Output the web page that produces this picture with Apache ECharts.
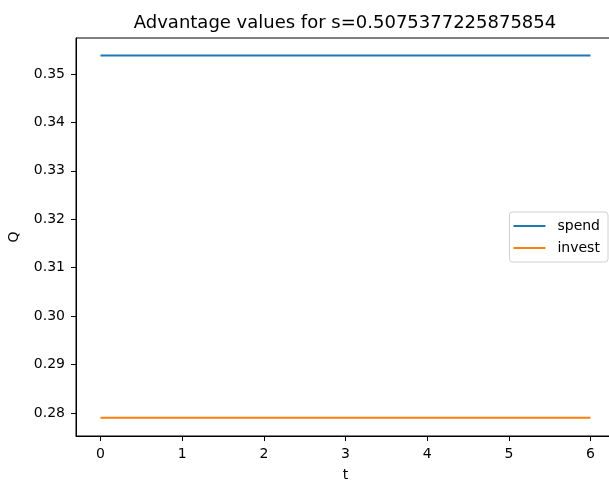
<!DOCTYPE html>
<html>
<head>
<meta charset="utf-8">
<script src="https://cdn.jsdelivr.net/npm/echarts@6/dist/echarts.min.js"></script>
<style>
  html, body { margin: 0; padding: 0; background: #fff; }
  #chart { width: 609px; height: 484px; }
</style>
</head>
<body>
<div id="chart"></div>
<script>
// 数据：时间步 t 和两条优势值曲线
const tValues = [0, 1, 2, 3, 4, 5, 6]
const spendValues = [0.3538, 0.3538, 0.3538, 0.3538, 0.3538, 0.3538, 0.3538]
const investValues = [0.2790, 0.2790, 0.2790, 0.2790, 0.2790, 0.2790, 0.2790]
const yTicks = [0.28, 0.29, 0.30, 0.31, 0.32, 0.33, 0.34, 0.35]
const xTicks = [0, 1, 2, 3, 4, 5, 6]

const font = 'DejaVu Sans'
const chart = echarts.init(document.getElementById('chart'))

const toPairs = (ys) => tValues.map((t, i) => [t, ys[i]])

const option = {
  animation: false,
  title: {
    text: 'Advantage values for s=0.5075377225875854',
    left: 340,
    textAlign: 'center',
    top: 9,
    textStyle: { fontFamily: font, fontSize: 18, fontWeight: 'normal', color: '#000' }
  },
  legend: {
    orient: 'vertical',
    right: 1,
    top: 212,
    padding: [7, 8, 7, 4],
    itemGap: 8,
    itemWidth: 32,
    itemHeight: 2,
    icon: 'rect',
    borderColor: '#d0d0d0',
    borderWidth: 1,
    borderRadius: 3,
    backgroundColor: 'rgba(255,255,255,0.8)',
    textStyle: { fontFamily: font, fontSize: 14, color: '#000', padding: [0, 0, 0, 7] },
    data: ['spend', 'invest']
  },
  grid: {
    left: 76,
    top: 38,
    height: 398,
    width: 539,
    outerBoundsMode: 'none',
    containLabel: false,
    show: true,
    borderColor: '#000',
    borderWidth: 1
  },
  xAxis: {
    type: 'value',
    min: -0.3,
    max: 6.3,
    name: 't',
    nameLocation: 'middle',
    nameGap: 32,
    nameTextStyle: { fontFamily: font, fontSize: 14, color: '#000' },
    axisLine: { show: true, onZero: false, lineStyle: { color: '#000', width: 1 } },
    axisTick: { show: true, length: 5, lineStyle: { color: '#000' }, customValues: xTicks },
    axisLabel: { fontFamily: font, fontSize: 14, color: '#000', margin: 11, customValues: xTicks },
    splitLine: { show: false }
  },
  yAxis: {
    type: 'value',
    min: 0.27525,
    max: 0.35743,
    name: 'Q',
    nameLocation: 'middle',
    nameGap: 55,
    nameTextStyle: { fontFamily: font, fontSize: 14, color: '#000' },
    axisLine: { show: true, onZero: false, lineStyle: { color: '#000', width: 1 } },
    axisTick: { show: true, length: 5, lineStyle: { color: '#000' }, customValues: yTicks },
    axisLabel: {
      fontFamily: font, fontSize: 14, color: '#000', margin: 11,
      customValues: yTicks,
      formatter: (v) => v.toFixed(2)
    },
    splitLine: { show: false }
  },
  series: [
    {
      name: 'spend',
      type: 'line',
      data: toPairs(spendValues),
      symbol: 'none',
      lineStyle: { color: '#1f77b4', width: 2 },
      itemStyle: { color: '#1f77b4' }
    },
    {
      name: 'invest',
      type: 'line',
      data: toPairs(investValues),
      symbol: 'none',
      lineStyle: { color: '#ff7f0e', width: 2 },
      itemStyle: { color: '#ff7f0e' }
    }
  ]
}

chart.setOption(option)
</script>
</body>
</html>
